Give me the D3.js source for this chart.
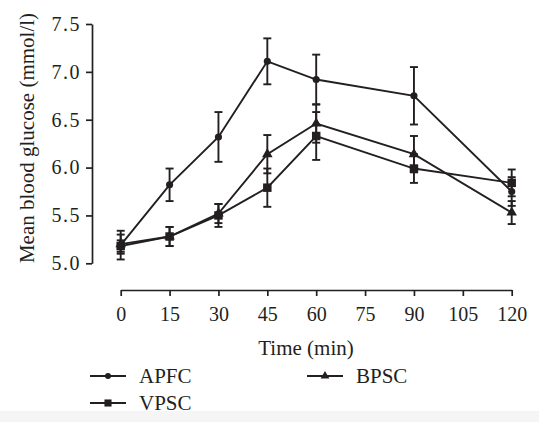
<!DOCTYPE html>
<html>
<head>
<meta charset="utf-8">
<script src="https://cdn.jsdelivr.net/npm/d3@7"></script>
<style>
  html, body { margin: 0; padding: 0; background: #fff; }
  svg { display: block; }
</style>
</head>
<body>
<script>
const times = [0, 15, 30, 45, 60, 90, 120];
const xTicks = [0, 15, 30, 45, 60, 75, 90, 105, 120];
const yTicks = [5.0, 5.5, 6.0, 6.5, 7.0, 7.5];
const seriesNames = ["APFC", "VPSC", "BPSC"];
const apfcMean = [5.19, 5.82, 6.32, 7.11, 6.92, 6.75, 5.75];
const apfcErr  = [0.15, 0.17, 0.26, 0.24, 0.26, 0.30, 0.15];
const vpscMean = [5.18, 5.28, 5.50, 5.79, 6.33, 5.99, 5.84];
const vpscErr  = [0.06, 0.10, 0.12, 0.20, 0.25, 0.15, 0.14];
const bpscMean = [5.20, 5.28, 5.52, 6.14, 6.46, 6.14, 5.53];
const bpscErr  = [0.10, 0.10, 0.10, 0.20, 0.20, 0.19, 0.12];
const xTitle = "Time (min)";
const yTitle = "Mean blood glucose (mmol/l)";

const W = 539, H = 422;
const ink = "#231f20";
const FONT = '"Liberation Serif"';
const svg = d3.select("body").append("svg").attr("width", W).attr("height", H);

const x = d3.scaleLinear().domain([0, 120]).range([120.7, 511.7]);
const y = d3.scaleLinear().domain([5.0, 7.5]).range([263.3, 24]);

function styleText(sel, size) {
  sel.style("font-family", FONT).style("font-size", size + "px").attr("fill", ink);
}

// Y axis
const yAxis = d3.axisLeft(y).tickValues(yTicks).tickFormat(d3.format(".1f")).tickSize(6).tickPadding(5).tickSizeOuter(0);
const gy = svg.append("g").attr("transform", "translate(92,0)").call(yAxis);
gy.style("font-family", FONT);
styleText(gy.selectAll("text"), 20);
gy.selectAll("text").style("letter-spacing", "1.5px");
gy.selectAll("line,path").attr("stroke", ink).attr("stroke-width", 1.7);

// X axis
const xAxis = d3.axisBottom(x).tickValues(xTicks).tickFormat(d3.format("d")).tickSize(6).tickPadding(11).tickSizeOuter(0);
const gx = svg.append("g").attr("transform", "translate(0,290)").call(xAxis);
gx.style("font-family", FONT);
styleText(gx.selectAll("text"), 20);
gx.selectAll("line,path").attr("stroke", ink).attr("stroke-width", 1.7);

// Titles
styleText(svg.append("text").attr("x", 306).attr("y", 355).attr("text-anchor", "middle").text(xTitle), 21);
styleText(svg.append("text").attr("transform", "translate(34,138) rotate(-90)").attr("text-anchor", "middle").text(yTitle), 21);

const series = [
  {name: seriesNames[0], mean: apfcMean, err: apfcErr, sym: d3.symbolCircle, size: 40},
  {name: seriesNames[1], mean: vpscMean, err: vpscErr, sym: d3.symbolSquare, size: 72},
  {name: seriesNames[2], mean: bpscMean, err: bpscErr, sym: d3.symbolTriangle, size: 48}
];

const line = d3.line().x(d => x(d.t)).y(d => y(d.v));
const cap = 4;

series.forEach(s => {
  const pts = times.map((t, i) => ({t, v: s.mean[i], e: s.err[i]}));
  const g = svg.append("g");
  pts.forEach(p => {
    const cx = x(p.t), y1 = y(p.v + p.e), y2 = y(p.v - p.e);
    g.append("line").attr("x1", cx).attr("x2", cx).attr("y1", y1).attr("y2", y2)
      .attr("stroke", ink).attr("stroke-width", 1.9);
    [y1, y2].forEach(yy => g.append("line").attr("x1", cx - cap).attr("x2", cx + cap)
      .attr("y1", yy).attr("y2", yy).attr("stroke", ink).attr("stroke-width", 1.9));
  });
  g.append("path").datum(pts).attr("d", line).attr("fill", "none")
    .attr("stroke", ink).attr("stroke-width", 1.9);
  g.selectAll("path.m").data(pts).enter().append("path").attr("class", "m")
    .attr("d", d3.symbol().type(s.sym).size(s.size))
    .attr("transform", d => `translate(${x(d.t)},${y(d.v)})`)
    .attr("fill", ink);
});

// Legend
const legendPos = [
  {lx: 90, ty: 376},
  {lx: 90, ty: 403},
  {lx: 307, ty: 376}
];
series.forEach((s, i) => {
  const p = legendPos[i];
  const g = svg.append("g");
  g.append("line").attr("x1", p.lx).attr("x2", p.lx + 36).attr("y1", p.ty).attr("y2", p.ty)
    .attr("stroke", ink).attr("stroke-width", 1.9);
  g.append("path").attr("d", d3.symbol().type(s.sym).size(s.size * 0.7)())
    .attr("transform", `translate(${p.lx + 18},${p.ty})`).attr("fill", ink);
  styleText(g.append("text").attr("x", p.lx + 49).attr("y", p.ty).attr("dy", "0.35em").text(s.name), 21);
});

// light band at the bottom edge as in the reference
svg.append("rect").attr("x", 0).attr("y", 411).attr("width", W).attr("height", 11).attr("fill", "#f5f5f5");
</script>
</body>
</html>
